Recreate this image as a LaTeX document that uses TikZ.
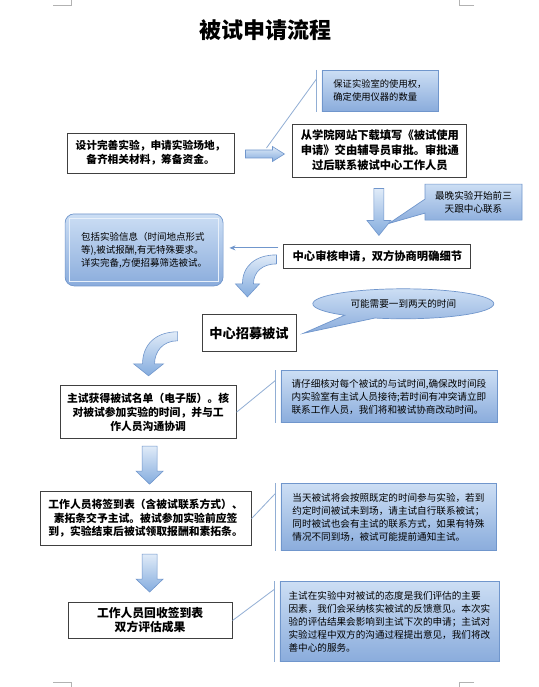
\documentclass[tikz,border=0pt]{standalone}
\usepackage{fontspec}
\setmainfont{Noto Sans CJK SC}
\usetikzlibrary{arrows.meta, positioning, calc, shapes.callouts, shapes.geometric}

\definecolor{noteTop}{RGB}{204,222,244}
\definecolor{noteBottom}{RGB}{138,172,220}
\definecolor{noteLine}{RGB}{112,150,204}
\definecolor{arrowTop}{RGB}{224,235,248}
\definecolor{arrowBottom}{RGB}{132,172,222}
\definecolor{barLine}{RGB}{145,174,212}

\begin{document}
\begin{tikzpicture}[
  x=1pt, y=-1pt,
  box/.style={draw=black!75, line width=0.9pt, fill=white, align=center, inner sep=2pt},
  note/.style={draw=noteLine, line width=0.7pt, top color=noteTop, bottom color=noteBottom, align=left, inner sep=4pt, font=\fontsize{9.6}{13}\selectfont},
  fatarrow/.style={draw=noteLine, line width=0.6pt, top color=arrowTop, bottom color=arrowBottom},
  accent/.style={barLine, line width=1.2pt},
  leader/.style={barLine, line width=0.8pt},
  thinarrow/.style={-{Stealth[length=6pt,width=5pt]}, noteLine, line width=0.9pt},
  corner/.style={black!30, line width=0.6pt}
]
\fill[white] (0,0) rectangle (538,687);
\useasboundingbox (0,0) rectangle (538,687);

% Page corners
\draw[corner] (53,5) -- (71,5) -- (71,0);
\draw[corner] (474,5) -- (459,5) -- (459,0);
\draw[corner] (53,682) -- (71,682) -- (71,687);
\draw[corner] (474,682) -- (459,682) -- (459,687);

% Title
\node[font=\fontsize{22}{22}\selectfont\bfseries] (title) at (265,30) {被试申请流程};

% Main steps
\node[box, minimum width=167pt, minimum height=40pt, font=\fontsize{10.7}{14}\selectfont\bfseries] (design) at (150.5,153) {设计完善实验，申请实验场地，\\备齐相关材料，筹备资金。};
\node[box, right=58pt of design, yshift=2.5pt, minimum width=174pt, minimum height=53pt, font=\fontsize{11.3}{15}\selectfont\bfseries] (download) {从学院网站下载填写《被试使用\\申请》交由辅导员审批。审批通\\过后联系被试中心工作人员};
\node[box, below=67pt of download, xshift=-2.5pt, minimum width=187pt, minimum height=24pt, font=\fontsize{11.3}{14}\selectfont\bfseries] (review) {中心审核申请，双方协商明确细节};
\node[box, below left=45pt and -13pt of review, minimum width=94pt, minimum height=37pt, font=\fontsize{13.2}{15}\selectfont\bfseries] (recruit) {中心招募被试};
\node[box, below left=33pt and -35pt of recruit, minimum width=176pt, minimum height=53pt, font=\fontsize{10.8}{14}\selectfont\bfseries] (list) {主试获得被试名单（电子版）。核\\对被试参加实验的时间，并与工\\作人员沟通协调};
\node[box, below=52pt of list, xshift=-2.5pt, minimum width=211pt, minimum height=54pt, font=\fontsize{10.8}{13.5}\selectfont\bfseries] (signin) {工作人员将签到表（含被试联系方式）、\\素拓条交予主试。被试参加实验前应签\\到，实验结束后被试领取报酬和素拓条。};
\node[box, below=56pt of signin, xshift=4.5pt, minimum width=164pt, minimum height=36pt, font=\fontsize{11.8}{14}\selectfont\bfseries] (collect) {工作人员回收签到表\\双方评估成果};

% Notes
\node[note, above=12pt of download, minimum width=116pt, minimum height=41pt, font=\fontsize{9.3}{13}\selectfont] (guarantee) {保证实验室的使用权，\\确定使用仪器的数量};
\node[note, rectangle callout, above left=24pt and -51pt of review.north east, minimum width=97pt, minimum height=36pt, align=center, callout pointer width=14pt, callout absolute pointer={($(download.south)+(9,46)$)}] (deadline) {最晚实验开始前三\\天跟中心联系};
\node[note, left=60pt of review, yshift=7pt, rounded corners=9pt, minimum width=158pt, minimum height=72pt, font=\fontsize{9.5}{13}\selectfont] (info) {包括实验信息（时间地点形式\\等),被试报酬,有无特殊要求。\\详实完备,方便招募筛选被试。};
\node[note, ellipse callout, right=16pt of recruit, yshift=29.5pt, minimum width=181pt, minimum height=30pt, align=center, callout pointer arc=22, callout absolute pointer={([xshift=7pt]recruit.east)}] (timeneeded) {可能需要一到两天的时间};
\node[note, right=44pt of list, yshift=15.5pt, minimum width=216pt, minimum height=52pt] (checknote) {请仔细核对每个被试的与试时间,确保改时间段\\内实验室有主试人员接待;若时间有冲突请立即\\联系工作人员，我们将和被试协商改动时间。};
\node[note, right=29pt of signin, yshift=1.5pt, minimum width=215pt, minimum height=67pt] (arrivenote) {当天被试将会按照既定的时间参与实验，若到\\约定时间被试未到场，请主试自行联系被试；\\同时被试也会有主试的联系方式，如果有特殊\\情况不同到场，被试可能提前通知主试。};
\node[note, right=47pt of collect, yshift=-1pt, minimum width=219pt, minimum height=80pt] (evalnote) {主试在实验中对被试的态度是我们评估的主要\\因素，我们会采纳核实被试的反馈意见。本次实\\验的评估结果会影响到主试下次的申请；主试对\\实验过程中双方的沟通过程提出意见，我们将改\\善中心的服务。};

% Inner frame of the rounded note
\draw[white!55!noteTop, line width=0.8pt] ([shift={(5pt,-5pt)}]info.north west) rectangle ([shift={(-5pt,5pt)}]info.south east);

% Block arrows
\path[fatarrow] ($(design.east)+(11,-3)$) -- ++(27,0) -- ++(0,-3.5) -- ++(12,7.5) -- ++(-12,7.5) -- ++(0,-3.5) -- ++(-27,0) -- cycle;
\coordinate (arrowtop) at ($(design.east)+(32,-5)$);
\path[fatarrow] ($(download.south)+(-6,11)$) -- ++(10,0) -- ++(0,32) -- ++(7,0) -- ++(-12,15) -- ++(-12,-15) -- ++(7,0) -- cycle;
\begin{scope}[shift={(review.west)}]
  \path[fatarrow] (-7,-2) .. controls (-28,-2) and (-41,9) .. (-41,27) -- (-48,27) -- (-36,40) -- (-24,27) -- (-30,27) .. controls (-30,15) and (-21,7) .. (-7,7) -- cycle;
\end{scope}
\begin{scope}[shift={(recruit.west)}]
  \path[fatarrow] (-24,-1.5) .. controls (-46,-1.5) and (-59,11.5) .. (-59,30.5) -- (-68,30.5) -- (-53,42.5) -- (-38,30.5) -- (-47,30.5) .. controls (-47,18.5) and (-39,7.5) .. (-24,7.5) -- cycle;
\end{scope}
\path[fatarrow] ($(list.south)+(-6,7)$) -- ++(15,0) -- ++(0,25) -- ++(6,0) -- ++(-13.5,13) -- ++(-13.5,-13) -- ++(6,0) -- cycle;
\path[fatarrow] ($(signin.south)+(-3.5,8)$) -- ++(15,0) -- ++(0,25) -- ++(6,0) -- ++(-13.5,13) -- ++(-13.5,-13) -- ++(6,0) -- cycle;

% Thin arrow to the rounded note
\draw[thinarrow] ([xshift=-5pt,yshift=9pt]review.west) -- ([xshift=6pt,yshift=2pt]info.east);

% Accent bars and leader lines
\draw[accent] ([xshift=-5pt]guarantee.north west) -- ([xshift=-5pt]guarantee.south west);
\draw[leader] ([xshift=-5pt,yshift=-9pt]guarantee.north west) -- (arrowtop);
\draw[accent] ([xshift=-5pt]checknote.north west) -- ([xshift=-5pt]checknote.south west);
\draw[leader] ([xshift=-5pt,yshift=-10pt]checknote.north west) -- (list.east);
\draw[accent] ([xshift=-5pt]arrivenote.north west) -- ([xshift=-5pt]arrivenote.south west);
\draw[leader] ([xshift=-5pt,yshift=-10pt]arrivenote.north west) -- (signin.east);
\draw[accent] ([xshift=-5pt]evalnote.north west) -- ([xshift=-5pt]evalnote.south west);
\draw[leader] ([xshift=-5pt,yshift=-8pt]evalnote.north west) -- (collect.east);

\end{tikzpicture}
\end{document}
